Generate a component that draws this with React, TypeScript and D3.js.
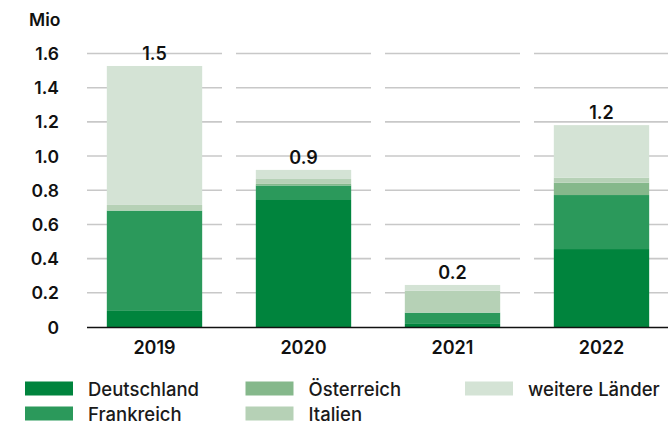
import React from "react";
import * as d3 from "d3";

const years = ["2019", "2020", "2021", "2022"];
const seriesNames = ["Deutschland", "Frankreich", "Österreich", "Italien", "weitere Länder"];
const deutschland = [0.094, 0.743, 0.018, 0.456];
const frankreich = [0.587, 0.085, 0.066, 0.316];
const oesterreich = [0.0, 0.009, 0.0, 0.072];
const italien = [0.033, 0.029, 0.129, 0.029];
const weitere = [0.813, 0.053, 0.033, 0.308];
const colors = ["#00843D", "#2B995B", "#85B88B", "#B6D1B6", "#D4E3D5"];
const yTicks = [0, 0.2, 0.4, 0.6, 0.8, 1.0, 1.2, 1.4, 1.6];
const unitLabel = "Mio";

const W = 668;
const H = 427;
const FONT = "Inter, Roboto, 'Liberation Sans', sans-serif";

export default function App() {
  const values = [deutschland, frankreich, oesterreich, italien, weitere];
  const rows = years.map((y, i) => {
    const r: any = { year: y };
    seriesNames.forEach((s, k) => (r[s] = values[k][i]));
    return r;
  });
  const stacked = d3.stack<any>().keys(seriesNames)(rows);
  const totals = years.map((_, i) => d3.sum(values, (v) => v[i]));

  const x = d3.scaleBand<string>().domain(years).range([80, 676]).paddingInner(0.36).paddingOuter(0.18);
  const y = d3.scaleLinear().domain([0, 1.6]).range([327, 53.5]);
  const fmtTick = (v: number) => (v === 0 ? "0" : d3.format(".1f")(v));
  const fmtTotal = d3.format(".1f");
  const half = 67.5;

  const legendCols = [25, 245.5, 465];
  const legendRows = [381.5, 406.5];
  const legendPos = [
    [0, 0],
    [0, 1],
    [1, 0],
    [1, 1],
    [2, 0],
  ];

  return (
    <svg width={W} height={H} style={{ position: "absolute", left: 0, top: 0, background: "#fff" }} fontFamily={FONT}>
      {years.map((yr) => {
        const c = (x(yr) as number) + x.bandwidth() / 2;
        return yTicks
          .filter((t) => t > 0)
          .map((t) => (
            <line
              key={yr + t}
              x1={c - half}
              x2={Math.min(c + half, W)}
              y1={y(t)}
              y2={y(t)}
              stroke="#C8C8C8"
              strokeWidth={1.6}
            />
          ));
      })}
      {yTicks.map((t) => (
        <text key={t} x={59} y={y(t) + 6.5} textAnchor="end" fontSize={17.5} fontWeight={600} fill="#111">
          {fmtTick(t)}
        </text>
      ))}
      <text x={29} y={25.5} fontSize={17.5} fontWeight={600} fill="#111">
        {unitLabel}
      </text>
      {stacked.map((layer, k) =>
        layer.map((d, i) => (
          <rect
            key={k + "-" + i}
            x={x(years[i]) as number}
            width={x.bandwidth()}
            y={y(d[1])}
            height={Math.max(0, y(d[0]) - y(d[1]))}
            fill={colors[k]}
          />
        ))
      )}
      <line x1={87} x2={W} y1={y(0) + 0.5} y2={y(0) + 0.5} stroke="#111" strokeWidth={1.6} />
      {years.map((yr, i) => (
        <text
          key={"t" + yr}
          x={(x(yr) as number) + x.bandwidth() / 2}
          y={y(totals[i]) - 6}
          textAnchor="middle"
          fontSize={18}
          fontWeight={600}
          fill="#111"
        >
          {fmtTotal(totals[i])}
        </text>
      ))}
      {years.map((yr) => (
        <text
          key={"x" + yr}
          x={(x(yr) as number) + x.bandwidth() / 2}
          y={354}
          textAnchor="middle"
          fontSize={18}
          fontWeight={600}
          fill="#111"
        >
          {yr}
        </text>
      ))}
      {seriesNames.map((s, k) => {
        const [ci, ri] = legendPos[k];
        const lx = legendCols[ci];
        const ly = legendRows[ri];
        return (
          <g key={"l" + s}>
            <rect x={lx} y={ly} width={48} height={14} fill={colors[k]} />
            <text x={lx + 63} y={ly + 14} fontSize={18.5} fontWeight={500} fill="#1a1a1a">
              {s}
            </text>
          </g>
        );
      })}
    </svg>
  );
}
